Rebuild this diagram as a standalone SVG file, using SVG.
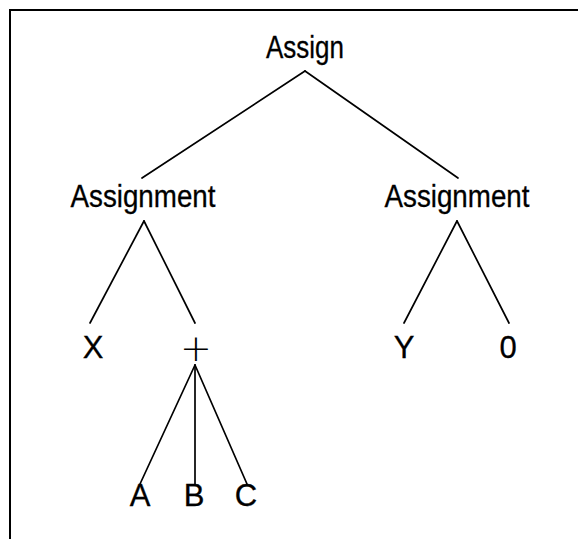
<svg xmlns="http://www.w3.org/2000/svg" width="578" height="539" viewBox="0 0 578 539">
<style>
text{font-family:"Liberation Sans",Arial,sans-serif;font-size:31px;fill:#000;stroke:#000;stroke-width:0.3;text-anchor:middle}
.e line{stroke:#000;stroke-width:1.7;stroke-linecap:round}
.frame{stroke:#000;stroke-width:2;fill:none}
</style>
<rect width="578" height="539" fill="#fff"/>
<path class="frame" d="M10,539 V10 H578"/>
<g class="e" id="connectors">
<line x1="305" y1="71" x2="142" y2="178"/>
<line x1="305" y1="71" x2="458" y2="178"/>
<line x1="144" y1="221" x2="90" y2="323"/>
<line x1="144" y1="221" x2="195" y2="323"/>
<line x1="457" y1="221" x2="404" y2="323"/>
<line x1="457" y1="221" x2="509" y2="323"/>
<line x1="195" y1="365" x2="140" y2="484"/>
<line x1="195" y1="365" x2="195" y2="484"/>
<line x1="195" y1="365" x2="247" y2="484"/>
</g>
<g id="assign"><text x="305" y="58" textLength="78" lengthAdjust="spacingAndGlyphs">Assign</text></g>
<g id="assignment1"><text x="143" y="207" textLength="145" lengthAdjust="spacingAndGlyphs">Assignment</text></g>
<g id="assignment2"><text x="457" y="207" textLength="145" lengthAdjust="spacingAndGlyphs">Assignment</text></g>
<g id="x"><text x="93" y="358">X</text></g>
<g id="plus"><text x="196" y="361" style="font-size:38px;stroke:none;font-family:'DejaVu Sans',sans-serif;font-weight:200">+</text></g>
<g id="y"><text x="404" y="358">Y</text></g>
<g id="zero"><text x="508" y="358">0</text></g>
<g id="a"><text x="140" y="506">A</text></g>
<g id="b"><text x="194" y="506">B</text></g>
<g id="c"><text x="246" y="506">C</text></g>
</svg>
